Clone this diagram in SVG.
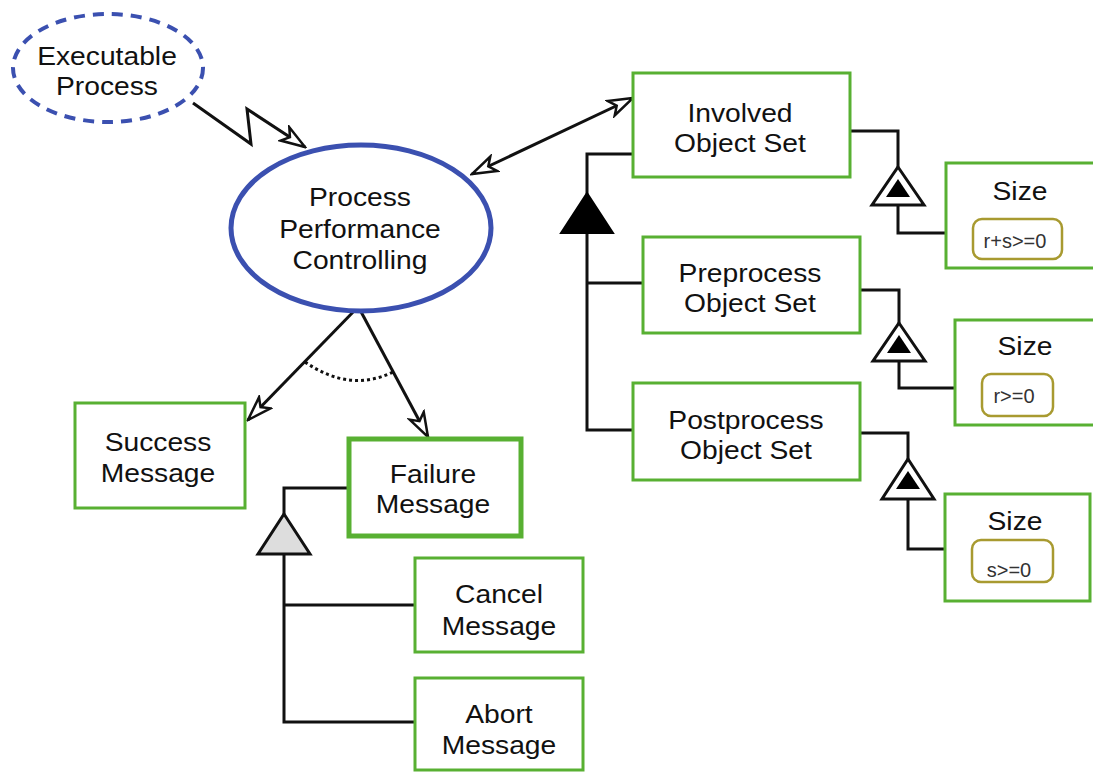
<svg xmlns="http://www.w3.org/2000/svg" width="1093" height="772" viewBox="0 0 1093 772">
<defs>
<style>
.box{fill:#fff;stroke:#58b032;stroke-width:3}
.thick{stroke-width:5}
.t{font-family:"Liberation Sans",Arial,sans-serif;font-size:25px;fill:#111;text-anchor:middle;transform-box:fill-box;transform-origin:center;transform:scaleX(1.13)}
.s{font-family:"Liberation Sans",Arial,sans-serif;font-size:20px;fill:#333;text-anchor:middle}
.ln{fill:none;stroke:#111;stroke-width:3}
.tag{fill:#fff;stroke:#a89a30;stroke-width:2.5}
</style>
<marker id="open" viewBox="0 0 28 20" refX="26" refY="10" markerWidth="28" markerHeight="20" markerUnits="userSpaceOnUse" orient="auto-start-reverse">
<path d="M2,2 L26,10 L2,18 L8,10 Z" fill="#fff" stroke="#111" stroke-width="2.5" stroke-linejoin="miter"/>
</marker>
</defs>
<rect width="1093" height="772" fill="#fff"/>

<g id="connectors">
<polyline class="ln" points="193,103 251,144 247,109 305,147" marker-end="url(#open)"/>
<line class="ln" x1="472" y1="174" x2="633" y2="98" marker-start="url(#open)" marker-end="url(#open)"/>
<line class="ln" x1="357" y1="308" x2="248" y2="420" marker-end="url(#open)"/>
<line class="ln" x1="359" y1="308" x2="428" y2="437" marker-end="url(#open)"/>
<path d="M305,362 Q350,393 393,372" fill="none" stroke="#111" stroke-width="3" stroke-dasharray="3,3"/>
<!-- failure specialization -->
<polyline class="ln" points="348,488 284,488 284,514"/>
<polyline class="ln" points="284,554 284,722 415,722"/>
<line class="ln" x1="284" y1="605" x2="415" y2="605"/>
<polygon points="284,514 310,554 258,554" fill="#ddd" stroke="#111" stroke-width="3"/>
<!-- aggregation -->
<polyline class="ln" points="633,154 587,154 587,194"/>
<polyline class="ln" points="587,232 587,430 633,430"/>
<line class="ln" x1="587" y1="283" x2="643" y2="283"/>
<polygon points="587,193 613,233 561,233" fill="#000" stroke="#000" stroke-width="2"/>
<!-- exhibition 1 -->
<polyline class="ln" points="850,131 898,131 898,167"/>
<polyline class="ln" points="898,205 898,233 946,233"/>
<polygon points="898,167 924,205 872,205" fill="#fff" stroke="#111" stroke-width="3"/>
<polygon points="898,179 910,197 886,197" fill="#000"/>
<!-- exhibition 2 -->
<polyline class="ln" points="860,290 899,290 899,323"/>
<polyline class="ln" points="899,361 899,388 955,388"/>
<polygon points="899,323 925,361 873,361" fill="#fff" stroke="#111" stroke-width="3"/>
<polygon points="899,335 911,353 887,353" fill="#000"/>
<!-- exhibition 3 -->
<polyline class="ln" points="860,433 908,433 908,459"/>
<polyline class="ln" points="908,499 908,549 945,549"/>
<polygon points="908,459 934,499 882,499" fill="#fff" stroke="#111" stroke-width="3"/>
<polygon points="908,471 920,489 896,489" fill="#000"/>
</g>

<g id="executable-process">
<ellipse cx="108" cy="68" rx="95" ry="54" fill="#fff" stroke="#3b50b0" stroke-width="4" stroke-dasharray="11,8"/>
<text class="t" x="107" y="65">Executable</text>
<text class="t" x="107" y="95">Process</text>
</g>

<g id="process-performance-controlling">
<ellipse cx="361" cy="228" rx="130" ry="83" fill="#fff" stroke="#3b50b0" stroke-width="5"/>
<text class="t" x="360" y="206">Process</text>
<text class="t" x="360" y="238">Performance</text>
<text class="t" x="360" y="269">Controlling</text>
</g>

<g id="success-message">
<rect class="box" x="75" y="403" width="170" height="105"/>
<text class="t" x="158" y="451">Success</text>
<text class="t" x="158" y="482">Message</text>
</g>

<g id="failure-message">
<rect class="box thick" x="349" y="439" width="172" height="97"/>
<text class="t" x="433" y="483">Failure</text>
<text class="t" x="433" y="513">Message</text>
</g>

<g id="cancel-message">
<rect class="box" x="415" y="558" width="168" height="94"/>
<text class="t" x="499" y="603">Cancel</text>
<text class="t" x="499" y="635">Message</text>
</g>

<g id="abort-message">
<rect class="box" x="415" y="678" width="168" height="92"/>
<text class="t" x="499" y="723">Abort</text>
<text class="t" x="499" y="754">Message</text>
</g>

<g id="involved-object-set">
<rect class="box" x="633" y="73" width="217" height="104"/>
<text class="t" x="740" y="122">Involved</text>
<text class="t" x="740" y="152">Object Set</text>
</g>

<g id="preprocess-object-set">
<rect class="box" x="643" y="237" width="217" height="96"/>
<text class="t" x="750" y="282">Preprocess</text>
<text class="t" x="750" y="312">Object Set</text>
</g>

<g id="postprocess-object-set">
<rect class="box" x="633" y="383" width="227" height="97"/>
<text class="t" x="746" y="429">Postprocess</text>
<text class="t" x="746" y="459">Object Set</text>
</g>

<g id="size-1">
<rect class="box" x="946" y="163" width="150" height="105"/>
<text class="t" x="1020" y="200">Size</text>
<rect class="tag" x="973" y="219" width="89" height="40" rx="9"/>
<text class="s" x="1015" y="248">r+s&gt;=0</text>
</g>

<g id="size-2">
<rect class="box" x="955" y="320" width="141" height="105"/>
<text class="t" x="1025" y="355">Size</text>
<rect class="tag" x="982" y="374" width="71" height="42" rx="9"/>
<text class="s" x="1014" y="403">r&gt;=0</text>
</g>

<g id="size-3">
<rect class="box" x="945" y="494" width="145" height="107"/>
<text class="t" x="1015" y="530">Size</text>
<rect class="tag" x="972" y="540" width="81" height="42" rx="9"/>
<text class="s" x="1009" y="577">s&gt;=0</text>
</g>
</svg>
